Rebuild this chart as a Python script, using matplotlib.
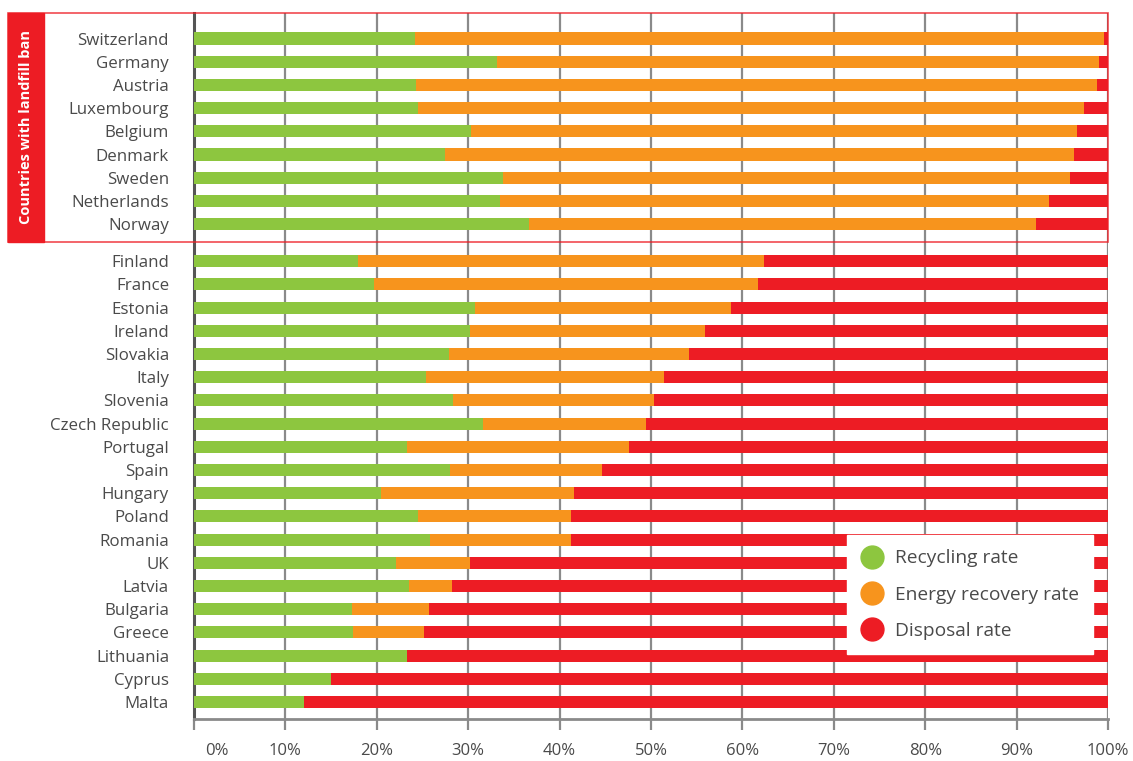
import matplotlib
matplotlib.use("Agg")
import matplotlib.pyplot as plt
from matplotlib.patches import Rectangle
from matplotlib.lines import Line2D
import matplotlib.transforms as mtransforms
import numpy as np

plt.rcParams['font.family'] = ['Open Sans', 'DejaVu Sans']

ban_countries = ["Switzerland", "Germany", "Austria", "Luxembourg", "Belgium",
                 "Denmark", "Sweden", "Netherlands", "Norway"]
ban_recycling = [24.2, 33.2, 24.3, 24.5, 30.3, 27.5, 33.8, 33.5, 36.7]
ban_energy = [75.4, 65.8, 74.5, 72.9, 66.3, 68.8, 62.0, 60.0, 55.4]

other_countries = ["Finland", "France", "Estonia", "Ireland", "Slovakia", "Italy",
                   "Slovenia", "Czech Republic", "Portugal", "Spain", "Hungary",
                   "Poland", "Romania", "UK", "Latvia", "Bulgaria", "Greece",
                   "Lithuania", "Cyprus", "Malta"]
other_recycling = [17.9, 19.7, 30.7, 30.2, 27.9, 25.4, 28.3, 31.6, 23.3, 28.0, 20.5,
                   24.5, 25.8, 22.1, 23.5, 17.3, 17.4, 23.3, 15.0, 12.0]
other_energy = [44.5, 42.0, 28.1, 25.7, 26.3, 26.0, 22.0, 17.9, 24.3, 16.6, 21.1,
                16.7, 15.4, 8.1, 4.7, 8.4, 7.8, 0.0, 0.0, 0.0]

tick_values = [0, 10, 20, 30, 40, 50, 60, 70, 80, 90, 100]
tick_labels = [f"{v}%" for v in tick_values]
legend_labels = ["Recycling rate", "Energy recovery rate", "Disposal rate"]
ban_label = "Countries with landfill ban"

GREEN = "#8DC63F"
ORANGE = "#F7941D"
RED = "#ED1C24"
TEXT = "#4a4a4a"
GRID = "#8a8a8a"

countries = ban_countries + other_countries
recycling = np.array(ban_recycling + other_recycling)
energy = np.array(ban_energy + other_energy)
disposal = 100 - recycling - energy

n_other = len(other_countries)
gap = 0.6
y_other = np.arange(n_other)[::-1].astype(float)
y_ban = (n_other + gap) + np.arange(len(ban_countries))[::-1]
ypos = np.concatenate([y_ban, y_other])

W, H = 1133, 761
fig = plt.figure(figsize=(W / 100, H / 100), dpi=100)
ax = fig.add_axes([194 / W, 1 - 719 / H, (1108 - 194) / W, (719 - 13) / H])

bh = 0.52
ax.barh(ypos, recycling, height=bh, color=GREEN, zorder=3)
ax.barh(ypos, energy, left=recycling, height=bh, color=ORANGE, zorder=3)
ax.barh(ypos, disposal, left=recycling + energy, height=bh, color=RED, zorder=3)

ax.set_xlim(0, 100)
ax.set_ylim(-0.73, 29.7)
ax.set_yticks(ypos)
ax.set_yticklabels(countries, fontsize=12.2, color=TEXT)
ax.tick_params(axis='y', length=0, pad=18)
ax.set_xticks(tick_values)
ax.set_xticklabels(tick_labels, fontsize=12, color=TEXT)
ax.tick_params(axis='x', length=8, width=1.6, color=GRID, pad=9)
ax.xaxis.grid(True, color=GRID, linewidth=1.6, zorder=0)
ax.set_axisbelow(True)

# shift the 0% label right
lab0 = ax.get_xticklabels()[0]
lab0.set_transform(lab0.get_transform() + mtransforms.ScaledTranslation(23 / 100, 0, fig.dpi_scale_trans))

for s in ['top', 'right']:
    ax.spines[s].set_visible(False)
ax.spines['left'].set_color("#555555")
ax.spines['left'].set_linewidth(2.2)
ax.spines['bottom'].set_color(GRID)
ax.spines['bottom'].set_linewidth(2)

# landfill ban box
x0, x1 = 8 / W, 1108 / W
y_top, y_bot = 1 - 13 / H, 1 - 242 / H
fig.patches.append(Rectangle((x0, y_bot), x1 - x0, y_top - y_bot, transform=fig.transFigure,
                             fill=False, edgecolor=RED, linewidth=1.2, alpha=0.8, zorder=5))
fig.patches.append(Rectangle((x0, y_bot), (44 - 8) / W, y_top - y_bot, transform=fig.transFigure,
                             facecolor=RED, edgecolor=RED, linewidth=1.0, zorder=5))
fig.text(26 / W, (y_top + y_bot) / 2, ban_label, rotation=90, color="white",
         fontsize=10.5, fontweight='bold', ha='center', va='center', zorder=6)

handles = [Line2D([], [], marker='o', linestyle='none', markersize=16.5,
                  markerfacecolor=c, markeredgecolor=c) for c in (GREEN, ORANGE, RED)]
leg = ax.legend(handles, legend_labels, loc='upper left',
                bbox_to_anchor=(847 / W, 1 - 535 / H), bbox_transform=fig.transFigure,
                fontsize=13.8, frameon=True, fancybox=False, framealpha=1,
                edgecolor='white', borderpad=0.75, labelspacing=0.95,
                handletextpad=0.65, handlelength=1.1, borderaxespad=0)
for t in leg.get_texts():
    t.set_color(TEXT)
leg.set_zorder(10)

fig.savefig("out.png", dpi=100)
